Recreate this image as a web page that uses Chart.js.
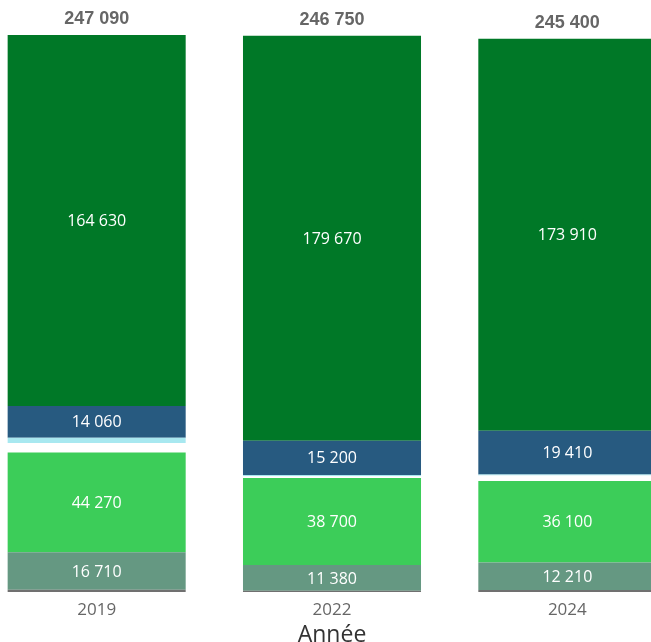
<!DOCTYPE html>
<html lang="fr">
<head>
<meta charset="utf-8">
<title>Répartition par année</title>
<script src="https://cdn.jsdelivr.net/npm/chart.js@4.4.1/dist/chart.umd.min.js"></script>
<style>
  html, body { margin: 0; padding: 0; background: #fff; overflow: hidden; }
  #wrap { position: absolute; left: -21px; top: 0; width: 706px; height: 642px; }
</style>
</head>
<body>
<div id="wrap"><canvas id="chart"></canvas></div>
<script>
// années
const annees = ['2019', '2022', '2024'];

// séries, du bas vers le haut de la pile
const autres      = [920, 500, 870];
const serieGris   = [16710, 11380, 12210];
const serieVert   = [44270, 38700, 36100];
const serieBlanc  = [4200, 700, 2500];
const serieCyan   = [2300, 600, 400];
const serieBleu   = [14060, 15200, 19410];
const serieFonce  = [164630, 179670, 173910];

const fmt = v => String(Math.round(v)).replace(/\B(?=(\d{3})+(?!\d))/g, ' ');

const totaux = annees.map((_, i) =>
  [autres, serieGris, serieVert, serieBlanc, serieCyan, serieBleu, serieFonce]
    .reduce((s, a) => s + a[i], 0));

// étiquettes dans les segments + total au-dessus de chaque barre
const etiquettes = {
  id: 'etiquettes',
  afterDatasetsDraw(chart) {
    const ctx = chart.ctx;
    ctx.save();
    ctx.textAlign = 'center';
    ctx.textBaseline = 'middle';
    if ('fontStretch' in ctx) ctx.fontStretch = 'normal';
    chart.data.datasets.forEach((ds, di) => {
      if (!ds.avecEtiquette) return;
      const meta = chart.getDatasetMeta(di);
      meta.data.forEach((bar, i) => {
        const y = (bar.y + bar.base) / 2;
        ctx.fillStyle = '#ffffff';
        ctx.font = '16px "Open Sans", "Noto Sans", sans-serif';
        ctx.fillText(fmt(ds.data[i]), bar.x, y + 1);
      });
    });
    const haut = chart.getDatasetMeta(chart.data.datasets.length - 1);
    if ('fontStretch' in ctx) ctx.fontStretch = 'condensed';
    haut.data.forEach((bar, i) => {
      ctx.fillStyle = '#666666';
      ctx.font = 'bold 18px "Liberation Sans Narrow", "Liberation Sans", "DejaVu Sans", sans-serif';
      ctx.fillText(fmt(totaux[i]), bar.x, bar.y - 16);
    });
    if ('fontStretch' in ctx) ctx.fontStretch = 'normal';
    ctx.restore();
  }
};

new Chart(document.getElementById('chart'), {
  type: 'bar',
  data: {
    labels: annees,
    datasets: [
      { label: 'Autres', data: autres, backgroundColor: '#707070' },
      { label: 'Gris', data: serieGris, backgroundColor: '#659882', avecEtiquette: true },
      { label: 'Vert', data: serieVert, backgroundColor: '#3ccd59', avecEtiquette: true },
      { label: 'Blanc', data: serieBlanc, backgroundColor: '#ffffff' },
      { label: 'Cyan', data: serieCyan, backgroundColor: '#a8e8f0' },
      { label: 'Bleu', data: serieBleu, backgroundColor: '#275a80', avecEtiquette: true },
      { label: 'Foncé', data: serieFonce, backgroundColor: '#007827', avecEtiquette: true }
    ]
  },
  options: {
    responsive: true,
    maintainAspectRatio: false,
    animation: false,
    layout: { padding: { top: 35, bottom: 0, left: 0, right: 0 } },
    datasets: { bar: { categoryPercentage: 1, barPercentage: 0.7565, borderWidth: 0 } },
    plugins: { legend: { display: false }, tooltip: { enabled: false } },
    scales: {
      x: {
        stacked: true,
        grid: { display: false, drawTicks: false },
        border: { display: false },
        ticks: { color: '#666', padding: 8, font: { family: '"Open Sans", "Noto Sans", sans-serif', size: 17 } },
        title: {
          display: true, text: 'Année', color: '#333',
          padding: { top: -3, bottom: -4 },
          font: { family: '"Open Sans", "Noto Sans", sans-serif', size: 23, lineHeight: 0.9 }
        }
      },
      y: {
        stacked: true,
        display: false,
        min: 0,
        max: Math.max(...totaux)
      }
    }
  },
  plugins: [etiquettes]
});
</script>
</body>
</html>
